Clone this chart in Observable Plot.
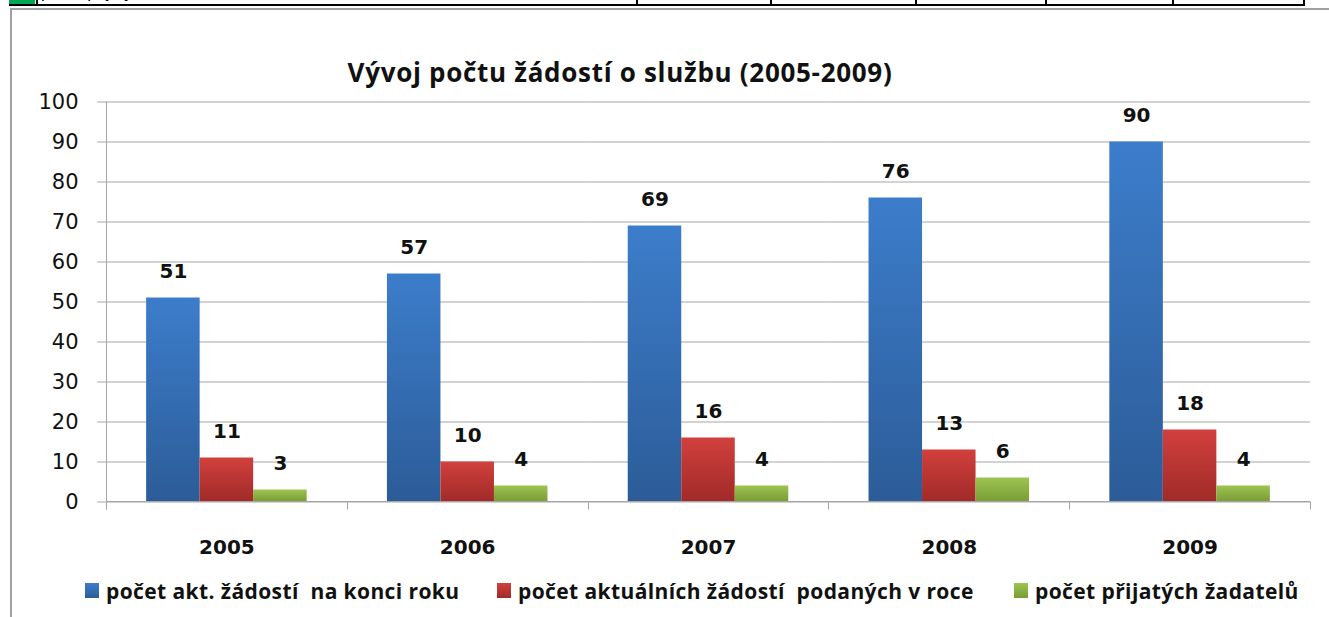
<!DOCTYPE html>
<html><head><meta charset="utf-8">
<script src="https://cdn.jsdelivr.net/npm/d3@7"></script>
<script src="https://cdn.jsdelivr.net/npm/@observablehq/plot@0.6"></script>
<style>
body{margin:0;background:#fff;font-family:"Open Sans",Lato,sans-serif;}
#page{position:relative;width:1329px;height:617px;overflow:hidden;background:#fff;}
.abs{position:absolute;}
#title{position:absolute;left:0;width:1240px;top:55px;text-align:center;font-weight:700;font-size:26px;letter-spacing:0.7px;line-height:34px;color:#111;white-space:pre;}
#chart{position:absolute;left:0;top:90px;}
.leg{position:absolute;top:577px;font-weight:700;font-size:21px;letter-spacing:0.4px;line-height:28px;color:#111;white-space:pre;}
.sw{position:absolute;width:14px;height:15px;top:583px;}
#tblclip{position:absolute;left:0;top:0;width:1329px;height:6px;overflow:hidden;}
</style></head><body>
<div id="page">
  <div id="tblclip"></div>
  <div class="abs" style="left:11px;top:8px;width:1318px;height:2px;background:#a0a0a0;"></div>
  <div class="abs" style="left:10px;top:8px;width:2px;height:609px;background:#a0a0a0;"></div>
  <div id="title"></div>
  <div id="chart"></div>
</div>
<svg width="0" height="0" style="position:absolute">
  <defs>
    <linearGradient id="gBlue" x1="0" y1="0" x2="0" y2="1"><stop offset="0" stop-color="#3c7dcb"/><stop offset="1" stop-color="#2c5c98"/></linearGradient>
    <linearGradient id="gRed" x1="0" y1="0" x2="0" y2="1"><stop offset="0" stop-color="#d1403d"/><stop offset="1" stop-color="#a02a28"/></linearGradient>
    <linearGradient id="gGreen" x1="0" y1="0" x2="0" y2="1"><stop offset="0" stop-color="#9dc450"/><stop offset="1" stop-color="#7a9c35"/></linearGradient>
  </defs>
</svg>
<script>
// ---- data ----
const titleText = "Vývoj počtu žádostí o službu (2005-2009)";
const years = ["2005", "2006", "2007", "2008", "2009"];
const seriesNames = [
  "počet akt. žádostí  na konci roku",
  "počet aktuálních žádostí  podaných v roce",
  "počet přijatých žadatelů"
];
const endOfYear = [51, 57, 69, 76, 90];
const submittedInYear = [11, 10, 16, 13, 18];
const acceptedApplicants = [3, 4, 4, 6, 4];
const yTicks = [0, 10, 20, 30, 40, 50, 60, 70, 80, 90, 100];
const seriesFills = ["url(#gBlue)", "url(#gRed)", "url(#gGreen)"];
const legendSwatch = [
  "linear-gradient(#3c7dcb,#2c5c98)",
  "linear-gradient(#d1403d,#a02a28)",
  "linear-gradient(#9dc450,#7a9c35)"
];
// table fragment above the chart (cut off at the top of the picture)
const tableRowLabel = "počet přijatých žadatelů";
const tableColumnEdges = [36, 636, 770, 915, 1045, 1172, 1303];

// ---- table build ----
const seriesValues = [endOfYear, submittedInYear, acceptedApplicants];
const table = [];
years.forEach((yr, i) => seriesNames.forEach((s, j) => table.push({year: yr, series: s, value: seriesValues[j][i]})));

// ---- top table fragment ----
const clip = d3.select("#tblclip");
clip.append("div").style("position","absolute").style("left","9px").style("top","0px").style("width","26px").style("height","5px").style("background","#00a651");
clip.append("div").style("position","absolute").style("left","9px").style("top","4px").style("width","1296px").style("height","2px").style("background","#000");
tableColumnEdges.forEach(x => clip.append("div").style("position","absolute").style("left", x + "px").style("top","0px").style("width","2px").style("height","6px").style("background","#000"));
clip.append("div").style("position","absolute").style("left","41px").style("top","-17px").style("font","17px 'Liberation Sans',Arial,sans-serif").style("white-space","pre").text(tableRowLabel);

d3.select("#title").text(titleText);

// ---- chart ----
const W = 1329, H = 470;
const numFont = "'DejaVu Sans', sans-serif";
const plot = Plot.plot({
  width: W,
  height: H,
  marginLeft: 106,
  marginRight: 19,
  marginTop: 11.5,
  marginBottom: 58.5,
  style: {background: "transparent", fontFamily: numFont, color: "#111", overflow: "visible"},
  fx: {domain: years, paddingInner: 0, paddingOuter: 0, round: false, label: null, axis: null},
  x: {domain: seriesNames, paddingInner: 0, paddingOuter: 0.75, round: false, axis: null},
  y: {domain: [0, 100], label: null},
  color: {domain: seriesNames, range: seriesFills},
  marks: [
    Plot.gridY(yTicks, {stroke: "#a6a6a6", strokeOpacity: 1, strokeWidth: 1}),
    Plot.axisY(yTicks, {tickSize: 9, tickPadding: 19, stroke: "#a6a6a6", strokeOpacity: 1, fontSize: 21, fill: "#111", label: null}),
    Plot.axisFx({anchor: "bottom", tickSize: 0, tickPadding: 38, fontSize: 20, fontWeight: "bold", fill: "#111", label: null}),
    Plot.barY(table, {fx: "year", x: "series", y: "value", fill: "series", style: "filter: drop-shadow(1.5px 1.5px 1.5px rgba(0,0,0,0.25))"}),
    Plot.text(table, {fx: "year", x: "series", y: "value", text: d => String(d.value), dy: -26, fontSize: 20, fontWeight: "bold", fill: "#111"})
  ]
});
document.getElementById("chart").appendChild(plot);

// y axis line and category boundary ticks derived from the plot's own scales
const fxS = plot.scale("fx"), yS = plot.scale("y");
const yPos = v => yS.apply ? yS.apply(v) : yS.range[0] + (v - yS.domain[0]) / (yS.domain[1] - yS.domain[0]) * (yS.range[1] - yS.range[0]);
const svg = d3.select(plot.tagName.toLowerCase() === "svg" ? plot : plot.querySelector("svg"));
const x0 = fxS.range[0], step = (fxS.range[1] - fxS.range[0]) / fxS.domain.length;
const g = svg.append("g").attr("stroke", "#a6a6a6").attr("stroke-width", 1);
g.append("line").attr("x1", Math.round(x0) + 0.5).attr("x2", Math.round(x0) + 0.5).attr("y1", yPos(100)).attr("y2", yPos(0) + 8);
d3.range(fxS.domain.length + 1).forEach(i => {
  const x = Math.round(x0 + i * step) + 0.5;
  g.append("line").attr("x1", x).attr("x2", x).attr("y1", yPos(0)).attr("y2", yPos(0) + 8);
});
g.append("line").attr("x1", x0).attr("x2", fxS.range[1]).attr("y1", yPos(0)).attr("y2", yPos(0));

// ---- legend ----
const legendSwatchX = [85, 497, 1014];
const leg = d3.select("#page");
seriesNames.forEach((s, i) => {
  leg.append("div").attr("class", "sw").style("left", legendSwatchX[i] + "px").style("background", legendSwatch[i]);
  leg.append("div").attr("class", "leg").style("left", (legendSwatchX[i] + 21) + "px").text(s);
});
</script>
</body></html>
